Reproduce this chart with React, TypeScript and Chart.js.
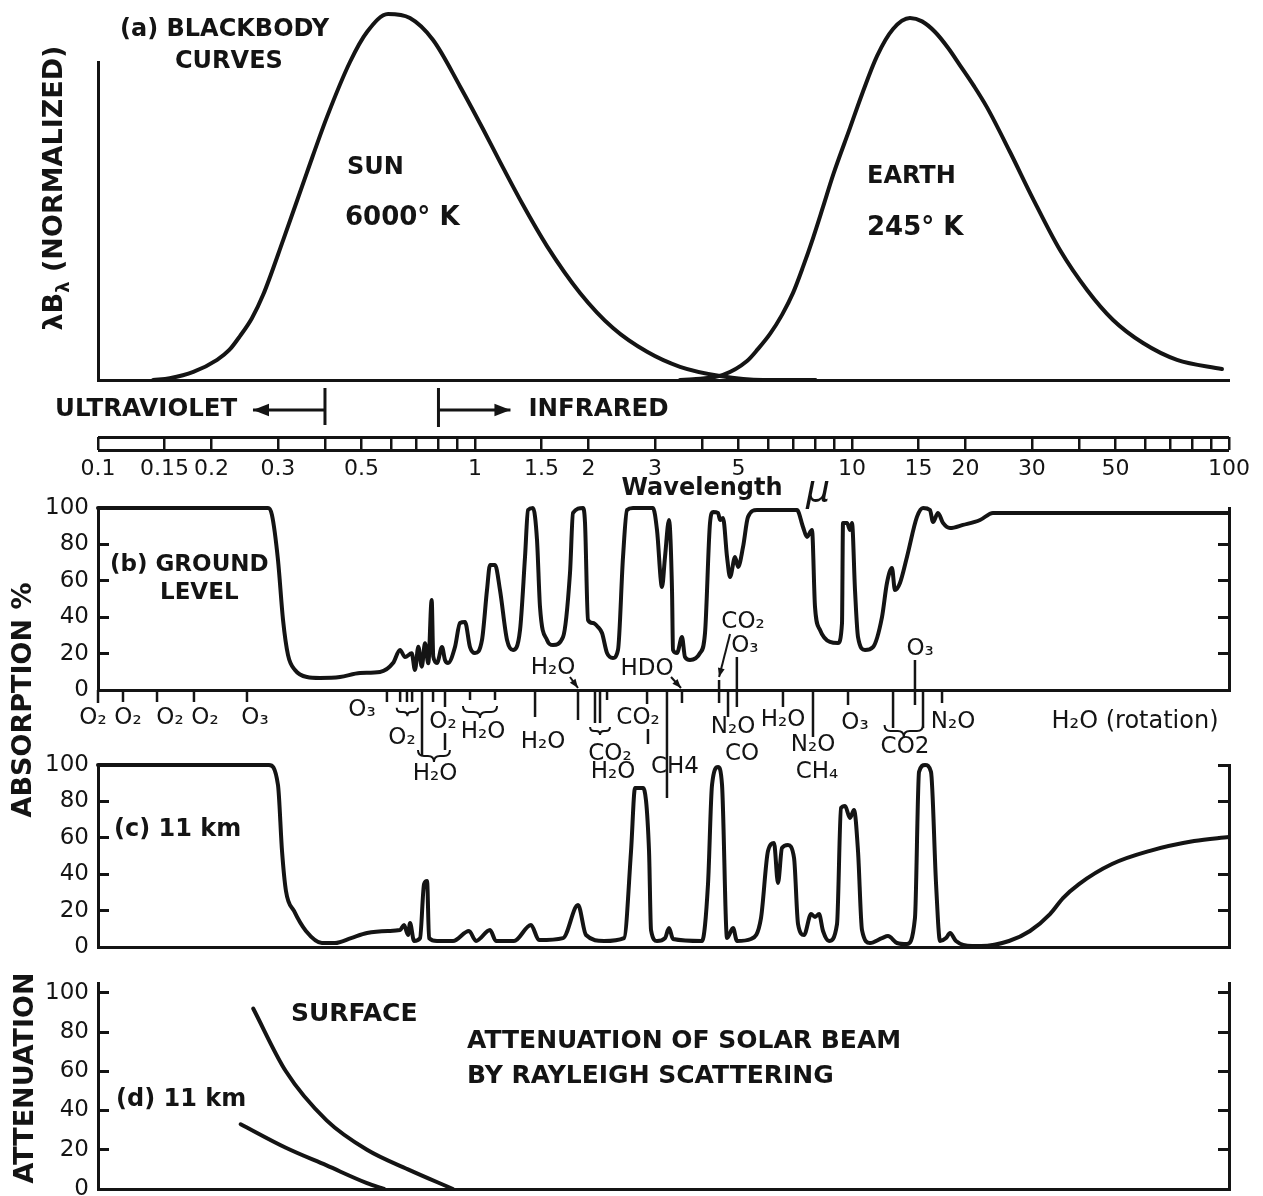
import React, { useEffect, useRef } from "react";
import { Chart, registerables } from "chart.js";

Chart.register(...registerables);

const PAGE_W = 1263;
const PAGE_H = 1196;
const OFFSET = 40;
const CANVAS_H = PAGE_H + 2 * OFFSET;
const PLOT_LEFT = 98;
const PLOT_RIGHT = 1229;
const INK = "#141414";
const FONT = "'DejaVu Sans', 'Liberation Sans', sans-serif";

// ---------- wavelength axis (micrometres) ----------
const WAVE_MIN = 0.1;
const WAVE_MAX = 100;
const SCALE_TICKS = [0.1, 0.15, 0.2, 0.3, 0.4, 0.5, 0.6, 0.7, 0.8, 0.9, 1, 1.5, 2, 3, 4, 5, 6, 7, 8, 9, 10, 15, 20, 30, 40, 50, 60, 70, 80, 90, 100];
const SCALE_LABELS = [0.1, 0.15, 0.2, 0.3, 0.5, 1, 1.5, 2, 3, 5, 10, 15, 20, 30, 50, 100];
const PERCENT_TICKS = [0, 20, 40, 60, 80, 100];
const PERCENT_TICKS_NO_TOP = [0, 20, 40, 60, 80];
const UV_EDGE = 0.4;
const IR_EDGE = 0.8;

// ---------- (a) blackbody curves: [wavelength µm, normalized λBλ] ----------
const sunCurve: [number, number][] = [
  [0.14, 0], [0.155, 0.005], [0.179, 0.022], [0.207, 0.055], [0.223, 0.082], [0.238, 0.12],
  [0.256, 0.169], [0.274, 0.232], [0.31, 0.383], [0.358, 0.566], [0.405, 0.719], [0.466, 0.869],
  [0.517, 0.951], [0.588, 1.0], [0.672, 0.989], [0.774, 0.929], [0.912, 0.803], [1.05, 0.686],
  [1.165, 0.596], [1.341, 0.478], [1.552, 0.366], [1.899, 0.238], [2.323, 0.142], [2.86, 0.077],
  [3.498, 0.036], [4.466, 0.011], [5.806, 0], [8, 0],
];
const earthCurve: [number, number][] = [
  [3.5, 0], [3.786, 0.002], [4.548, 0.014], [5.267, 0.052], [5.633, 0.085], [6.061, 0.126],
  [6.521, 0.178], [6.976, 0.238], [7.413, 0.309], [7.883, 0.388], [8.378, 0.473], [8.907, 0.56],
  [9.879, 0.689], [10.63, 0.781], [11.65, 0.885], [12.85, 0.959], [14.25, 0.989], [15.34, 0.98],
  [16.61, 0.951], [17.97, 0.908], [19.34, 0.86], [21.07, 0.803], [22.81, 0.745], [26.25, 0.623],
  [30.21, 0.495], [35.62, 0.355], [42.02, 0.246], [49.25, 0.164], [59.15, 0.101], [72.8, 0.055],
  [95.8, 0.03],
];

// ---------- (b) ground level absorption %: [wavelength µm, %] ----------
const groundLevel: [number, number][] = [
  [0.1, 100], [0.2825, 100], [0.2893, 96.2], [0.3002, 71.4], [0.3096, 38.5], [0.3192, 19.2],
  [0.3331, 11.0], [0.3584, 7.1], [0.388, 6.6], [0.4384, 7.1], [0.4955, 9.3], [0.5598, 9.9],
  [0.6061, 14.8], [0.6326, 22.0], [0.6522, 18.1], [0.6794, 20.2], [0.693, 11.0], [0.7075, 23.8],
  [0.7223, 12.8], [0.7369, 25.7], [0.7518, 14.7], [0.7675, 49.5], [0.775, 18.3], [0.7929, 14.8],
  [0.8175, 23.6], [0.8326, 16.5], [0.8481, 14.8], [0.8849, 23.6], [0.9124, 36.8], [0.9408, 37.4],
  [0.9699, 23.6], [1.0, 20.3], [1.0437, 27.5], [1.076, 54.9], [1.096, 68.7], [1.1301, 68.7],
  [1.165, 54.9], [1.2161, 27.5], [1.2614, 22.0], [1.3166, 33.0], [1.3573, 73.1], [1.3825, 98.9],
  [1.4252, 100], [1.4605, 82.4], [1.4874, 45.6], [1.5523, 27.5], [1.6101, 24.7], [1.7121, 29.1],
  [1.7865, 64.3], [1.8197, 97.3], [1.9341, 100], [1.958, 91.8], [1.994, 38.5], [2.0559, 36.8],
  [2.1198, 34.6], [2.1722, 31.3], [2.2395, 20.3], [2.3227, 17.6], [2.395, 22.0], [2.4696, 73.1],
  [2.5307, 98.9], [2.625, 100], [2.966, 100], [3.0392, 87.9], [3.1334, 56.6], [3.1915, 73.1],
  [3.2707, 93.4], [3.331, 54.9], [3.3514, 22.0], [3.4341, 20.3], [3.5404, 29.1], [3.6058, 18.1],
  [3.7177, 16.5], [3.9525, 20.3], [4.0751, 31.3], [4.2013, 91.8], [4.2793, 97.8], [4.4124, 97.3],
  [4.4667, 93.4], [4.549, 94.5], [4.6616, 73.1], [4.7481, 62.1], [4.8955, 73.1], [4.9859, 67.6],
  [5.1404, 78.6], [5.2993, 95.1], [5.5976, 98.9], [7.1463, 98.9], [7.4131, 89.6], [7.5964, 84.1],
  [7.8322, 87.9], [7.9779, 45.6], [8.2263, 33.0], [8.7408, 26.4], [9.1811, 25.8], [9.4078, 36.8],
  [9.4655, 91.8], [9.6999, 91.8], [9.8789, 87.9], [10.0, 91.8], [10.185, 54.9], [10.374, 29.1],
  [10.827, 22.0], [11.367, 23.6], [12.01, 40.1], [12.381, 58.8], [12.764, 67.0], [13.001, 54.9],
  [13.404, 58.8], [13.989, 73.1], [14.87, 95.1], [15.43, 100], [16.1, 98.9], [16.4, 92.3],
  [16.91, 97.3], [17.43, 91.8], [18.2, 89.0], [19.7, 90.7], [21.86, 93.4], [23.66, 97.3], [100, 97.3],
];

// ---------- (c) 11 km absorption %: [wavelength µm, %] ----------
const elevenKm: [number, number][] = [
  [0.1, 100], [0.2841, 100], [0.3002, 89], [0.3077, 52.7], [0.3152, 30.8], [0.3311, 19.8],
  [0.3561, 8.8], [0.3927, 2.2], [0.4252, 2.2], [0.469, 4.9], [0.5171, 7.7], [0.5877, 8.8],
  [0.6326, 9.3], [0.6482, 12.1], [0.6643, 6.6], [0.6725, 13.2], [0.6892, 3.3], [0.7149, 4.9],
  [0.7326, 34.6], [0.7462, 36.3], [0.7554, 4.9], [0.7929, 3.3], [0.8743, 3.3], [0.964, 8.8],
  [1.0062, 3.3], [1.096, 9.3], [1.1368, 3.3], [1.269, 3.3], [1.4076, 12.1], [1.4785, 3.8],
  [1.7121, 4.9], [1.8762, 23.1], [1.97, 6.6], [2.1988, 3.3], [2.4851, 4.9], [2.5935, 52.7],
  [2.6577, 87.4], [2.7907, 87.4], [2.8948, 52.7], [2.9303, 9.3], [3.0392, 3.3], [3.1915, 4.9],
  [3.2707, 10.4], [3.3514, 4.4], [4.0011, 3.3], [4.15, 34.6], [4.2529, 89], [4.4124, 98.9],
  [4.5214, 89], [4.6616, 4.9], [4.8364, 10.4], [4.9545, 3.3], [5.3951, 4.4], [5.736, 15.9],
  [5.9866, 52.7], [6.2105, 57.1], [6.3637, 35.2], [6.5212, 54.4], [6.7641, 56], [7.0191, 48.9],
  [7.1926, 12.6], [7.4612, 6.6], [7.788, 18.1], [7.9779, 16.5], [8.1757, 18.1], [8.378, 8.8],
  [8.6909, 3.3], [9.1256, 12.6], [9.3516, 76.4], [9.5831, 77.5], [9.8789, 70.9], [10.123, 75.3],
  [10.374, 52.7], [10.63, 9.3], [11.161, 2.2], [12.01, 4.9], [12.459, 6], [13.163, 2.2],
  [13.989, 1.6], [14.69, 15.9], [15.06, 96.2], [15.62, 100], [16.2, 96.2], [16.71, 34.6],
  [17.12, 3.3], [17.76, 4.9], [18.2, 7.7], [18.87, 3.3], [20.82, 0.5], [21.99, 0.5],
  [26.09, 3.3], [29.66, 8.8], [33.51, 18.1], [36.28, 26.9], [40.01, 34.6], [48.95, 45.6],
  [61.36, 52.7], [80.8, 58.2], [100, 60.4],
];

// ---------- (d) Rayleigh attenuation %: [wavelength µm, %] ----------
const rayleighSurface: [number, number][] = [
  [0.258, 92], [0.315, 60], [0.404, 35], [0.517, 20], [0.664, 10], [0.874, 0],
];
const rayleigh11Km: [number, number][] = [
  [0.239, 33], [0.315, 21], [0.404, 12], [0.517, 3], [0.574, 0],
];

// ---------- molecular band annotations (wavelength µm) ----------
const B_TICKS: [number, number, number][] = [
  [0.1, 690, 703], [0.1165, 690, 702], [0.1434, 690, 702], [0.1797, 690, 702], [0.2484, 690, 702],
  [0.584, 690, 702], [0.633, 690, 702], [0.66, 690, 702], [0.681, 690, 702], [0.7235, 690, 755],
  [0.774, 690, 702], [0.8326, 690, 707], [0.8326, 733, 750], [0.97, 690, 700], [1.13, 690, 700],
  [1.443, 690, 717], [1.876, 690, 720], [2.081, 690, 723], [2.146, 690, 723], [2.24, 690, 700],
  [2.86, 690, 704], [2.876, 729, 744], [3.23, 690, 798], [3.54, 690, 703], [4.44, 680, 703],
  [4.69, 690, 717], [4.95, 657, 707], [6.56, 690, 707], [7.88, 690, 737], [9.76, 690, 705],
  [12.85, 690, 728], [14.69, 660, 705], [15.43, 690, 728], [17.33, 690, 703],
];
const B_BRACES: [number, number, number][] = [
  [0.62, 0.706, 712], [0.706, 0.858, 756], [0.929, 1.144, 712], [2.02, 2.28, 731], [12.2, 15.43, 731],
];
const B_LABELS: [string, number, number][] = [
  ["O₂", 0.097, 718], ["O₂", 0.1201, 718], ["O₂", 0.1552, 718], ["O₂", 0.1922, 718], ["O₃", 0.2609, 718],
  ["O₃", 0.5016, 710], ["O₂", 0.6404, 738], ["O₂", 0.8223, 722], ["H₂O", 0.7832, 774],
  ["H₂O", 1.05, 732], ["H₂O", 1.5145, 742], ["H₂O", 1.6101, 668], ["CO₂", 2.28, 754],
  ["CO₂", 2.7067, 718], ["HDO", 2.86, 669], ["CO₂", 5.14, 622], ["O₃", 5.2, 646],
  ["N₂O", 4.8364, 727], ["CO", 5.109, 754], ["H₂O", 6.5617, 720], ["N₂O", 7.8827, 745],
  ["CH₄", 8.0728, 772], ["O₃", 10.185, 723], ["CO2", 13.823, 747], ["O₃", 15.153, 649],
  ["N₂O", 18.53, 722], ["H₂O (rotation)", 56.33, 722],
];
const B_ARROWS: [number, number, number, number][] = [
  [1.786, 677, 1.876, 688], [3.311, 677, 3.519, 688], [4.748, 634, 4.44, 677],
];
const C_LABELS: [string, number, number][] = [["H₂O", 2.323, 772], ["CH4", 3.39, 767]];

// ---------- drawing helpers ----------
type Ctx = CanvasRenderingContext2D;
function text(ctx: Ctx, s: string, x: number, y: number, size: number, o: { bold?: boolean; italic?: boolean; align?: CanvasTextAlign } = {}) {
  ctx.save();
  ctx.fillStyle = INK;
  ctx.font = `${o.italic ? "italic " : ""}${o.bold ? "bold " : ""}${size}px ${FONT}`;
  ctx.textAlign = o.align || "center";
  ctx.textBaseline = "middle";
  ctx.fillText(s, x, y);
  ctx.restore();
}
function rotatedParts(ctx: Ctx, parts: [string, number, number][], cx: number, cy: number) {
  ctx.save();
  ctx.translate(cx, cy);
  ctx.rotate(-Math.PI / 2);
  ctx.fillStyle = INK;
  ctx.textBaseline = "middle";
  ctx.textAlign = "left";
  let total = 0;
  for (const [s, size] of parts) {
    ctx.font = `bold ${size}px ${FONT}`;
    total += ctx.measureText(s).width;
  }
  let x = -total / 2;
  for (const [s, size, dy] of parts) {
    ctx.font = `bold ${size}px ${FONT}`;
    ctx.fillText(s, x, dy);
    x += ctx.measureText(s).width;
  }
  ctx.restore();
}
function line(ctx: Ctx, x1: number, y1: number, x2: number, y2: number, w = 2.5) {
  ctx.save();
  ctx.strokeStyle = INK;
  ctx.lineWidth = w;
  ctx.lineCap = "butt";
  ctx.beginPath();
  ctx.moveTo(x1, y1);
  ctx.lineTo(x2, y2);
  ctx.stroke();
  ctx.restore();
}
function arrow(ctx: Ctx, x1: number, y1: number, x2: number, y2: number, w = 2, head = 9) {
  line(ctx, x1, y1, x2, y2, w);
  const a = Math.atan2(y2 - y1, x2 - x1);
  ctx.save();
  ctx.fillStyle = INK;
  ctx.beginPath();
  ctx.moveTo(x2, y2);
  ctx.lineTo(x2 - head * Math.cos(a) + (head / 2.6) * Math.sin(a), y2 - head * Math.sin(a) - (head / 2.6) * Math.cos(a));
  ctx.lineTo(x2 - head * Math.cos(a) - (head / 2.6) * Math.sin(a), y2 - head * Math.sin(a) + (head / 2.6) * Math.cos(a));
  ctx.closePath();
  ctx.fill();
  ctx.restore();
}
function brace(ctx: Ctx, x1: number, x2: number, y: number) {
  const d = Math.min(6, (x2 - x1) / 5);
  const mid = (x1 + x2) / 2;
  ctx.save();
  ctx.strokeStyle = INK;
  ctx.lineWidth = 2;
  ctx.beginPath();
  ctx.moveTo(x1, y - d);
  ctx.quadraticCurveTo(x1, y, x1 + d, y);
  ctx.lineTo(mid - d, y);
  ctx.quadraticCurveTo(mid, y, mid, y + d);
  ctx.quadraticCurveTo(mid, y, mid + d, y);
  ctx.lineTo(x2 - d, y);
  ctx.quadraticCurveTo(x2, y, x2, y - d);
  ctx.stroke();
  ctx.restore();
}

// ---------- chart building ----------
const toPoints = (pairs: [number, number][]) => pairs.map(([x, y]) => ({ x, y }));
function lineDataset(pairs: [number, number][], clip: any = 6) {
  return {
    data: toPoints(pairs),
    borderColor: INK,
    borderWidth: 4,
    pointRadius: 0,
    fill: false,
    cubicInterpolationMode: "monotone",
    borderJoinStyle: "round",
    borderCapStyle: "round",
    clip,
    xAxisID: "x",
    yAxisID: "y",
  };
}
function waveAxis(extra: any = {}) {
  return {
    type: "logarithmic",
    position: "bottom",
    min: WAVE_MIN,
    max: WAVE_MAX,
    ticks: { display: false },
    grid: { display: false, drawTicks: false },
    border: { display: true, color: INK, width: 3 },
    afterFit: (s: any) => { s.height = 0; },
    ...extra,
  };
}
function percentAxis(position: "left" | "right", max: number, tickValues: number[] = PERCENT_TICKS) {
  return {
    position,
    min: 0,
    max,
    afterBuildTicks: (s: any) => { s.ticks = tickValues.map((v) => ({ value: v })); },
    ticks: position === "left"
      ? { display: true, color: INK, padding: 20, font: { family: FONT, size: 23 } }
      : { display: false },
    grid: { display: true, drawOnChartArea: false, drawTicks: true, tickLength: -11, color: INK, lineWidth: 3 },
    border: { display: true, color: INK, width: 3 },
    afterFit: (s: any) => { s.width = position === "left" ? PLOT_LEFT : 0; },
  };
}
function makeConfig(
  area: { top: number; bottom: number },
  datasets: any[],
  scales: any,
  draw: (ctx: Ctx, xs: (w: number) => number) => void,
  xAxisHeight = 0
) {
  return {
    type: "line",
    data: { datasets },
    options: {
      responsive: false,
      maintainAspectRatio: false,
      animation: false,
      events: [],
      layout: {
        padding: {
          left: 0,
          right: PAGE_W - PLOT_RIGHT,
          top: area.top + OFFSET,
          bottom: CANVAS_H - OFFSET - area.bottom - xAxisHeight,
        },
      },
      plugins: { legend: { display: false }, tooltip: { enabled: false }, title: { display: false } },
      scales,
    },
    plugins: [{
      id: "figureText",
      afterDraw(chart: any) {
        const ctx = chart.ctx as Ctx;
        const xs = (w: number) => chart.scales.x.getPixelForValue(w);
        ctx.save();
        ctx.translate(0, OFFSET);
        draw(ctx, xs);
        ctx.restore();
      },
    }],
  };
}

const A_MAX = 0.869;

function buildBlackbody() {
  return makeConfig(
    { top: 62, bottom: 380 },
    [lineDataset(sunCurve, false), lineDataset(earthCurve, false)],
    {
      x: waveAxis(),
      y: {
        position: "left", min: 0, max: A_MAX,
        ticks: { display: false }, grid: { display: false, drawTicks: false },
        border: { display: true, color: INK, width: 3 },
        afterFit: (s: any) => { s.width = PLOT_LEFT; },
      },
    },
    (ctx, xs) => {
      text(ctx, "(a) BLACKBODY", 120, 30, 24, { bold: true, align: "left" });
      text(ctx, "CURVES", 175, 62, 24, { bold: true, align: "left" });
      rotatedParts(ctx, [["λB", 27, 0], ["λ", 18, 9], [" (NORMALIZED)", 27, 0]], 55, 188);
      text(ctx, "SUN", 347, 168, 24, { bold: true, align: "left" });
      text(ctx, "6000° K", 345, 218, 26, { bold: true, align: "left" });
      text(ctx, "EARTH", 867, 177, 24, { bold: true, align: "left" });
      text(ctx, "245° K", 867, 228, 26, { bold: true, align: "left" });
      const uv = xs(UV_EDGE);
      const ir = xs(IR_EDGE);
      line(ctx, uv, 388, uv, 425, 3);
      arrow(ctx, uv, 410, uv - 72, 410, 3, 16);
      text(ctx, "ULTRAVIOLET", 55, 410, 24.5, { bold: true, align: "left" });
      line(ctx, ir, 388, ir, 427, 3);
      arrow(ctx, ir, 410, ir + 72, 410, 3, 16);
      text(ctx, "INFRARED", ir + 90, 410, 24.5, { bold: true, align: "left" });
    }
  );
}

function buildScaleBar() {
  const LABEL_BAND = 40;
  return makeConfig(
    { top: 437, bottom: 450 },
    [],
    {
      x: {
        type: "logarithmic", position: "bottom", min: WAVE_MIN, max: WAVE_MAX,
        afterBuildTicks: (s: any) => { s.ticks = SCALE_TICKS.map((v) => ({ value: v })); },
        ticks: {
          display: true, autoSkip: false, maxRotation: 0, minRotation: 0, padding: 6, color: INK,
          font: { family: FONT, size: 22 },
          callback: (v: any) => (SCALE_LABELS.includes(Number(v)) ? String(v) : ""),
        },
        grid: { display: true, drawOnChartArea: true, drawTicks: false, color: INK, lineWidth: 2.5 },
        border: { display: false },
        afterFit: (s: any) => { s.height = LABEL_BAND; },
      },
      y: {
        position: "left", min: 0, max: 1,
        ticks: { display: false, stepSize: 1 },
        grid: { display: true, drawOnChartArea: true, drawTicks: false, color: INK, lineWidth: 3 },
        border: { display: false },
        afterFit: (s: any) => { s.width = PLOT_LEFT; },
      },
    },
    (ctx) => {
      text(ctx, "Wavelength", 702, 489, 24, { bold: true });
      text(ctx, "μ", 818, 491, 38, { italic: true });
    },
    LABEL_BAND
  );
}

function buildGround() {
  return makeConfig(
    { top: 508, bottom: 690 },
    [lineDataset(groundLevel)],
    { x: waveAxis(), y: percentAxis("left", 100), yR: percentAxis("right", 100, PERCENT_TICKS_NO_TOP) },
    (ctx, xs) => {
      text(ctx, "(b) GROUND", 110, 565, 23, { bold: true, align: "left" });
      text(ctx, "LEVEL", 160, 593, 23, { bold: true, align: "left" });
      rotatedParts(ctx, [["ABSORPTION %", 27, 0]], 24, 700);
      for (const [w, y1, y2] of B_TICKS) line(ctx, xs(w), y1, xs(w), y2, 2.5);
      for (const [w1, w2, y] of B_BRACES) brace(ctx, xs(w1), xs(w2), y);
      for (const [s, w, y] of B_LABELS) text(ctx, s, xs(w), y, s.length > 6 ? 24 : 23);
      for (const [w1, y1, w2, y2] of B_ARROWS) arrow(ctx, xs(w1), y1, xs(w2), y2, 2, 9);
    }
  );
}

function build11km() {
  return makeConfig(
    { top: 765, bottom: 947 },
    [lineDataset(elevenKm)],
    { x: waveAxis(), y: percentAxis("left", 100), yR: percentAxis("right", 100) },
    (ctx, xs) => {
      text(ctx, "(c) 11 km", 114, 830, 24, { bold: true, align: "left" });
      for (const [s, w, y] of C_LABELS) text(ctx, s, xs(w), y, 23);
    }
  );
}

function buildRayleigh() {
  return makeConfig(
    { top: 983, bottom: 1189 },
    [lineDataset(rayleighSurface), lineDataset(rayleigh11Km)],
    { x: waveAxis(), y: percentAxis("left", 105), yR: percentAxis("right", 105) },
    (ctx) => {
      text(ctx, "(d) 11 km", 116, 1100, 24, { bold: true, align: "left" });
      text(ctx, "SURFACE", 291, 1014, 25, { bold: true, align: "left" });
      text(ctx, "ATTENUATION OF SOLAR BEAM", 467, 1041, 25, { bold: true, align: "left" });
      text(ctx, "BY RAYLEIGH SCATTERING", 467, 1076, 25, { bold: true, align: "left" });
      rotatedParts(ctx, [["ATTENUATION", 27, 0]], 26, 1078);
    }
  );
}

function ChartCanvas({ build }: { build: () => any }) {
  const ref = useRef<HTMLCanvasElement>(null);
  useEffect(() => {
    if (!ref.current) return;
    const chart = new Chart(ref.current, build());
    return () => chart.destroy();
  }, [build]);
  return (
    <canvas
      ref={ref}
      width={PAGE_W}
      height={CANVAS_H}
      style={{ position: "absolute", left: 0, top: -OFFSET, width: PAGE_W, height: CANVAS_H }}
    />
  );
}

export default function App() {
  return (
    <div style={{ position: "absolute", left: 0, top: 0, width: PAGE_W, height: PAGE_H, overflow: "hidden", background: "#ffffff" }}>
      <ChartCanvas build={buildBlackbody} />
      <ChartCanvas build={buildScaleBar} />
      <ChartCanvas build={buildGround} />
      <ChartCanvas build={build11km} />
      <ChartCanvas build={buildRayleigh} />
    </div>
  );
}
